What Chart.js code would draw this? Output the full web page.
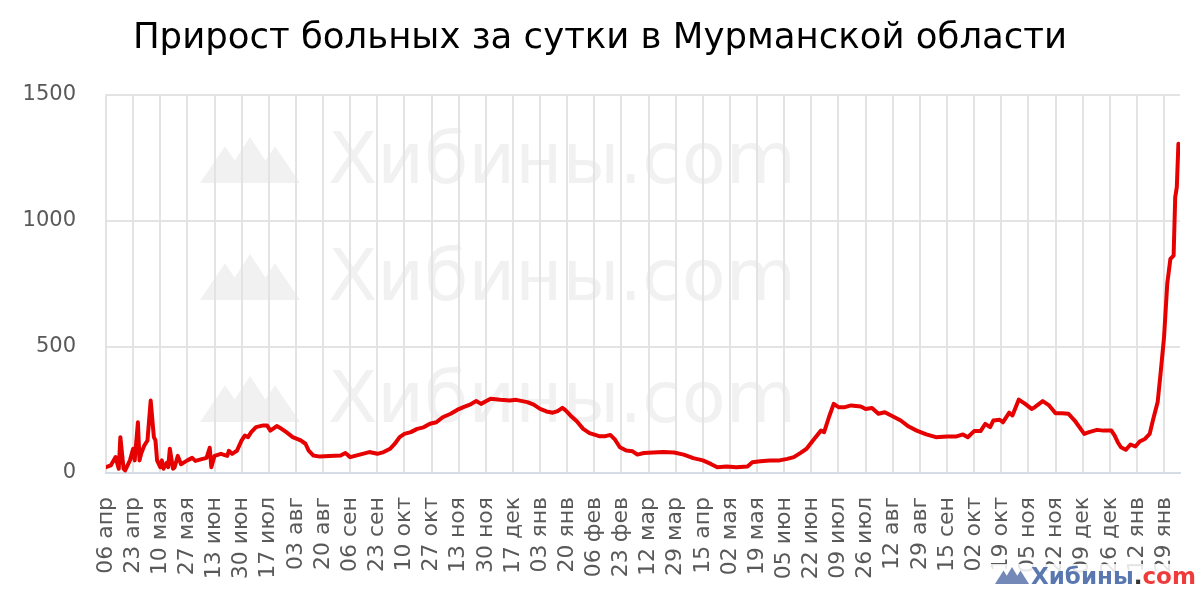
<!DOCTYPE html>
<html lang="ru">
<head>
  <meta charset="UTF-8" />
  <title>Прирост больных за сутки в Мурманской области</title>
  <script src="https://cdn.jsdelivr.net/npm/chart.js"></script>
  <style>
    html, body { margin: 0; padding: 0; background: #fff; }
    .wrap { width: 1200px; height: 600px; }
  </style>
</head>
<body>
  <div class="wrap"><canvas id="grafik"></canvas></div>
  <script>
    // подписи оси X (каждые 17 дней начиная с 06 апр 2020)
    const tickLabels = [
      '06 апр', '23 апр', '10 мая', '27 мая', '13 июн', '30 июн', '17 июл', '03 авг',
      '20 авг', '06 сен', '23 сен', '10 окт', '27 окт', '13 ноя', '30 ноя', '17 дек',
      '03 янв', '20 янв', '06 фев', '23 фев', '12 мар', '29 мар', '15 апр', '02 мая',
      '19 мая', '05 июн', '22 июн', '09 июл', '26 июл', '12 авг', '29 авг', '15 сен',
      '02 окт', '19 окт', '05 ноя', '22 ноя', '09 дек', '26 дек', '12 янв', '29 янв'
    ];
    const tickStep = 17;
    const lastDay = 673;

    // день от 06.04.2020
    const days = [
      0, 3, 6, 8, 9, 11, 12, 15, 17, 18,
      20, 21, 22, 24, 26, 28, 30, 31, 32, 34,
      35, 36, 38, 39, 40, 42, 43, 45, 47, 51,
      54, 56, 60, 63, 65, 66, 68, 72, 76, 77,
      79, 82, 85, 87, 89, 91, 94, 98, 101, 103,
      107, 110, 113, 117, 122, 125, 127, 130, 134, 140,
      147, 150, 153, 159, 165, 170, 174, 178, 181, 184,
      187, 191, 195, 199, 203, 207, 211, 216, 220, 224,
      228, 232, 235, 241, 247, 253, 257, 264, 268, 272,
      276, 280, 283, 286, 288, 291, 295, 299, 303, 309,
      313, 316, 319, 322, 326, 330, 333, 337, 343, 349,
      356, 362, 368, 374, 379, 383, 389, 395, 402, 405,
      410, 416, 422, 427, 431, 435, 439, 443, 448, 450,
      453, 456, 459, 463, 467, 473, 476, 480, 484, 488,
      492, 498, 503, 508, 514, 520, 527, 533, 537, 540,
      544, 548, 551, 554, 556, 560, 562, 566, 568, 572,
      576, 580, 582, 587, 591, 595, 599, 603, 607, 613,
      616, 621, 625, 630, 632, 634, 636, 639, 642, 645,
      648, 651, 654, 656, 659, 661, 663, 665, 667, 669,
      670, 671, 672
    ];

    // прирост больных за сутки
    const values = [
      23, 30, 63, 17, 142, 17, 10, 50, 96, 50,
      201, 50, 76, 109, 129, 287, 142, 129, 50, 23,
      50, 17, 40, 23, 96, 17, 23, 68, 35, 50,
      60, 48, 55, 60, 100, 23, 68, 76, 68, 88,
      76, 88, 129, 148, 142, 162, 182, 188, 188, 168,
      186, 175, 162, 142, 129, 116, 89, 69, 65, 67,
      69, 79, 63, 73, 83, 76, 83, 96, 116, 142,
      155, 162, 175, 181, 195, 201, 221, 235, 250, 261,
      271, 285, 274, 294, 290, 287, 290, 281, 271, 254,
      244, 239, 245, 258, 248, 228, 205, 175, 158, 146,
      146, 151, 132, 102, 89, 86, 73, 79, 81, 83,
      81, 73, 59, 50, 36, 23, 26, 23, 26, 43,
      47, 50, 50, 56, 63, 79, 96, 129, 168, 162,
      221, 274, 261, 261, 268, 264, 254, 258, 235, 241,
      228, 208, 184, 168, 153, 142, 145, 145, 153, 142,
      166, 166, 195, 182, 208, 211, 201, 239, 228, 291,
      274, 254, 261, 285, 268, 237, 237, 235, 208, 155,
      162, 171, 168, 168, 149, 122, 102, 92, 113, 105,
      126, 135, 155, 208, 281, 406, 538, 750, 849, 862,
      1093, 1133, 1305
    ];

    const yTicks = [0, 500, 1000, 1500];

    const shrift = 'DejaVu Sans, Verdana, sans-serif';

    function gory(ctx, x, y, w, h, cvet) {
      // три горы: левая, средняя (выше), правая
      ctx.fillStyle = cvet;
      ctx.beginPath();
      ctx.moveTo(x, y);
      ctx.lineTo(x + w * 0.25, y - h * 0.8);
      ctx.lineTo(x + w * 0.5, y);
      ctx.closePath();
      ctx.fill();
      ctx.beginPath();
      ctx.moveTo(x + w * 0.2, y);
      ctx.lineTo(x + w * 0.5, y - h);
      ctx.lineTo(x + w * 0.8, y);
      ctx.closePath();
      ctx.fill();
      ctx.beginPath();
      ctx.moveTo(x + w * 0.5, y);
      ctx.lineTo(x + w * 0.75, y - h * 0.8);
      ctx.lineTo(x + w, y);
      ctx.closePath();
      ctx.fill();
    }

    const vodyanoyZnak = {
      id: 'vodyanoyZnak',
      beforeDraw(chart) {
        const ctx = chart.ctx;
        ctx.save();
        ctx.font = '72px ' + shrift;
        ctx.textBaseline = 'alphabetic';
        ctx.textAlign = 'left';
        [183, 300, 422].forEach(function (yb) {
          gory(ctx, 200, yb, 100, 46, '#f1f1f1');
          ctx.fillStyle = '#f1f1f1';
          ctx.fillText('Хибины.com', 328, yb);
        });
        ctx.restore();
      },
      afterDraw(chart) {
        const ctx = chart.ctx;
        ctx.save();
        // полупрозрачная подложка под логотипом
        ctx.fillStyle = 'rgba(255,255,255,0.85)';
        ctx.fillRect(990, 564, 210, 36);
        gory(ctx, 995, 584, 34, 17, '#7489b8');
        ctx.font = 'bold 23px ' + shrift;
        ctx.textBaseline = 'alphabetic';
        ctx.textAlign = 'left';
        let x = 1031;
        ctx.fillStyle = '#5a78b0';
        ctx.fillText('Хибины', x, 584);
        x += ctx.measureText('Хибины').width;
        ctx.fillStyle = '#333';
        ctx.fillText('.', x, 584);
        x += ctx.measureText('.').width;
        ctx.fillStyle = '#ef3b3b';
        ctx.fillText('com', x, 584);
        ctx.restore();
      }
    };

    const ctx = document.getElementById('grafik').getContext('2d');
    new Chart(ctx, {
      type: 'line',
      data: {
        datasets: [{
          label: 'Прирост за сутки',
          data: days.map((d, i) => ({ x: d, y: values[i] })),
          borderColor: '#e60000',
          backgroundColor: '#e60000',
          borderWidth: 4,
          pointRadius: 0,
          tension: 0,
          borderJoinStyle: 'round',
          borderCapStyle: 'round'
        }]
      },
      options: {
        responsive: true,
        maintainAspectRatio: false,
        animation: false,
        layout: { padding: 0 },
        plugins: {
          legend: { display: false },
          tooltip: { enabled: false },
          title: {
            display: true,
            text: 'Прирост больных за сутки в Мурманской области',
            color: '#000',
            font: { family: shrift, size: 35.5, weight: 'normal' },
            padding: { top: 17, bottom: 35 }
          }
        },
        scales: {
          x: {
            type: 'linear',
            min: 0,
            max: lastDay,
            afterBuildTicks(scale) {
              scale.ticks = tickLabels.map((_, i) => ({ value: i * tickStep }));
            },
            afterFit(scale) {
              scale.height = 127;
              scale.paddingLeft = 0;
              scale.paddingRight = 20;
            },
            grid: { color: '#e3e3e3', lineWidth: 2, drawTicks: false },
            border: { color: '#d6dce5', width: 2 },
            ticks: {
              autoSkip: false,
              maxRotation: 90,
              minRotation: 90,
              padding: 24,
              color: '#595959',
              font: { family: shrift, size: 22 },
              callback: (v) => tickLabels[Math.round(v / tickStep)]
            }
          },
          y: {
            min: 0,
            max: 1500,
            afterBuildTicks(scale) {
              scale.ticks = yTicks.map(v => ({ value: v }));
            },
            afterFit(scale) { scale.width = 106; },
            grid: { color: '#e3e3e3', lineWidth: 2, drawTicks: false },
            border: { display: false },
            ticks: {
              padding: 30,
              color: '#595959',
              font: { family: shrift, size: 21 },
              callback: (v) => String(v)
            }
          }
        }
      },
      plugins: [vodyanoyZnak]
    });
  </script>
</body>
</html>
